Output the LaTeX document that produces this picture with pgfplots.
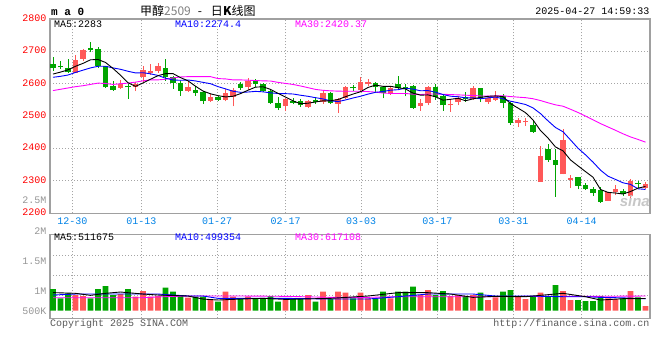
\documentclass[border=0pt]{standalone}
\usepackage{pgfplots}
\pgfplotsset{compat=1.18}
\usepackage{pgfplotstable}
\usepackage{fontspec}
\setmainfont{Liberation Mono}
\newfontfamily\cjk{Noto Sans CJK SC}
\newfontfamily\wm{Liberation Sans}
\definecolor{upred}{RGB}{255,88,88}
\definecolor{dngreen}{RGB}{0,165,0}
\definecolor{datec}{RGB}{0,130,230}
\definecolor{framec}{RGB}{160,160,160}
\definecolor{gridc}{RGB}{165,165,165}
\definecolor{volc}{RGB}{150,150,150}
\definecolor{mag}{RGB}{255,0,255}

% rising (red) candles
\pgfplotstableread{
i O H L C
3 2633 2690 2632 2674
4 2678 2707 2671 2705
9 2588 2613 2584 2600
11 2589 2607 2577 2600
12 2620 2656 2605 2641
13 2634 2661 2628 2640
14 2638 2663 2632 2655
18 2579 2609 2574 2591
21 2548 2568 2543 2558
23 2550 2584 2546 2571
24 2560 2587 2530 2581
26 2589 2618 2581 2610
31 2531 2556 2515 2553
34 2528 2550 2525 2548
36 2543 2579 2538 2571
38 2538 2556 2509 2553
39 2556 2594 2553 2591
41 2582 2622 2579 2607
42 2598 2614 2592 2606
45 2568 2592 2565 2587
49 2531 2553 2517 2540
50 2541 2594 2533 2591
53 2533 2553 2514 2538
54 2543 2563 2533 2556
56 2553 2594 2551 2587
58 2545 2561 2538 2555
59 2551 2579 2548 2563
62 2479 2494 2466 2487
63 2481 2494 2471 2484
65 2297 2407 2297 2376
68 2320 2461 2320 2425
69 2303 2318 2279 2310
74 2239 2265 2239 2265
75 2267 2287 2256 2275
77 2253 2305 2239 2300
79 2277 2297 2274 2290
}\upc

% falling (green) candles
\pgfplotstableread{
i O H L C
0 2662 2683 2639 2650
1 2656 2671 2646 2651
2 2650 2676 2633 2635
5 2711 2728 2697 2705
6 2707 2714 2648 2656
7 2654 2656 2587 2589
8 2594 2610 2579 2582
10 2592 2600 2554 2589
15 2650 2676 2609 2620
16 2620 2625 2584 2601
17 2602 2609 2563 2579
19 2582 2594 2563 2571
20 2574 2579 2538 2546
22 2558 2563 2548 2551
25 2599 2607 2581 2587
27 2611 2614 2589 2599
28 2599 2601 2574 2577
29 2579 2581 2538 2540
30 2540 2560 2519 2526
32 2548 2556 2536 2540
33 2548 2553 2528 2533
35 2550 2556 2538 2545
37 2571 2574 2538 2540
40 2591 2596 2579 2586
43 2602 2604 2576 2589
44 2589 2594 2555 2572
46 2599 2625 2584 2586
47 2589 2599 2561 2586
48 2594 2596 2522 2525
51 2591 2599 2550 2558
52 2563 2568 2517 2533
55 2560 2576 2545 2553
57 2587 2587 2543 2555
60 2563 2568 2524 2541
61 2540 2543 2473 2479
64 2474 2484 2449 2451
66 2398 2415 2359 2364
67 2364 2400 2251 2349
70 2311 2311 2274 2285
71 2287 2294 2272 2275
72 2275 2280 2253 2262
73 2272 2280 2233 2236
76 2269 2274 2253 2260
78 2294 2300 2277 2289
}\dnc

% price moving averages
\pgfplotstableread{
i ma5 ma10 ma30
0 2630 2620 2579
1 2636 2623 2583
2 2643 2627 2587
3 2654 2635 2591
4 2663 2642 2594
5 2674 2649 2598
6 2675 2654 2602
7 2665.8 2654 2601
8 2647.4 2649 2598
9 2626.4 2644.7 2600
10 2603.2 2638.6 2602
11 2592 2633.5 2605
12 2602.4 2634.1 2609
13 2614 2630.7 2612
14 2625 2625.7 2612
15 2631.2 2617.2 2614
16 2631.4 2611.7 2618
17 2619 2610.7 2621
18 2609.2 2611.6 2622
19 2592.4 2608.7 2622
20 2577.6 2604.4 2622
21 2569 2600.2 2622
22 2563.4 2591.2 2616
23 2559.4 2584.3 2615
24 2561.4 2576.9 2612
25 2569.6 2573.6 2612
26 2580 2574.5 2611
27 2589.6 2576.5 2610
28 2590.8 2575.1 2609
29 2582.6 2572 2608.5
30 2570.4 2570 2604.3
31 2559 2569.5 2601.1
32 2547.2 2568.4 2597.9
33 2538.4 2564.6 2593.2
34 2540 2561.3 2588
35 2543.8 2557.1 2582.6
36 2547.4 2553.2 2579.8
37 2547.4 2547.3 2578.2
38 2551.4 2544.9 2577.2
39 2560 2550 2576.9
40 2568.2 2556 2576.8
41 2575.4 2561.4 2577
42 2588.6 2568 2575.9
43 2595.8 2573.6 2574.2
44 2592 2576 2571.4
45 2592.2 2580.2 2570.3
46 2588 2581.7 2569.8
47 2584 2586.3 2570
48 2571.2 2583.5 2567.8
49 2564.8 2578.4 2566.8
50 2565.6 2578.9 2568.3
51 2560 2574 2568.3
52 2549.4 2566.7 2567.7
53 2552 2561.6 2566.6
54 2555.2 2560 2565.8
55 2547.6 2556.6 2564.6
56 2553.4 2556.7 2563.9
57 2557.8 2553.6 2562.4
58 2561.2 2556.6 2561.7
59 2562.6 2558.9 2562.4
60 2560.2 2553.9 2562.9
61 2538.6 2546 2560.5
62 2525 2541.4 2558.7
63 2510.8 2536 2557.1
64 2488.4 2525.5 2553.8
65 2455.4 2507.8 2548.2
66 2432.4 2485.5 2541.3
67 2404.8 2464.9 2534.9
68 2393 2451.9 2530.7
69 2364.8 2426.6 2521.3
70 2346.6 2401 2511.3
71 2328.8 2380.6 2500.2
72 2311.4 2358.1 2488.7
73 2273.6 2333.3 2477
74 2264.6 2314.7 2466.7
75 2262.6 2304.6 2456.3
76 2259.6 2294.2 2445.5
77 2267.2 2289.3 2435.9
78 2277.8 2275.7 2428.1
79 2282.8 2273.7 2419.7
}\pma

% volumes, rising days
\pgfplotstableread{
i V
3 659000
4 617000
9 701000
11 588000
12 827000
13 588000
14 617000
18 546000
21 449000
23 798000
24 588000
26 588000
31 449000
34 659000
36 798000
38 798000
39 756000
41 756000
42 521000
45 521000
49 659000
50 869000
53 617000
54 659000
56 659000
58 449000
59 563000
62 617000
63 491000
65 756000
68 827000
69 449000
74 521000
75 491000
77 827000
79 197000
}\upv

% volumes, falling days
\pgfplotstableread{
i V
0 911000
1 521000
2 731000
5 521000
6 911000
7 1037000
8 659000
10 911000
15 966000
16 798000
17 659000
19 588000
20 588000
22 378000
25 521000
27 521000
28 521000
29 617000
30 378000
32 521000
33 521000
35 378000
37 491000
40 521000
43 521000
44 798000
46 798000
47 798000
48 1008000
51 659000
52 827000
55 617000
57 756000
60 798000
61 869000
64 588000
66 588000
67 1079000
70 449000
71 407000
72 407000
73 617000
76 521000
78 563000
}\dnv

% volume moving averages
\pgfplotstableread{
i m5 m10 m30
0 760000 659000 546000
3 730000 700000 546000
5 645000 700000 546000
7 730000 700000 546000
9 785000 700000 546000
12 700000 700000 546000
14 659000 700000 580000
18 617000 617000 617000
20 490000 617000 617000
22 448000 519000 617000
25 490000 519000 617000
28 519000 519000 610000
31 475000 519000 603000
37 519000 491000 561000
42 617000 491000 561000
46 757000 588000 588000
50 757000 700000 588000
53 700000 700000 588000
56 561000 700000 588000
59 603000 617000 588000
63 588000 617000 600000
68 730000 588000 600000
71 588000 588000 600000
73 448000 560000 605000
76 505000 540000 610000
79 512000 499000 617000
}\vma

\begin{document}
\fontsize{10bp}{12bp}\selectfont
\begin{tikzpicture}
\path[use as bounding box] (0bp,0bp) rectangle (660bp,-360bp);

\begin{axis}[
  at={(50bp,-213.3bp)}, anchor=south west,
  scale only axis, width=600bp, height=194.3bp,
  xmin=-0.4, xmax=79.6, ymin=2200, ymax=2800,
  axis line style={framec, line width=1.3bp},
  major tick length=0pt,
  ytick={2200,2300,2400,2500,2600,2700,2800},
  yticklabels={2200,2300,2400,2500,2600,2700,2800},
  yticklabel style={text=red, inner sep=0pt, xshift=-3.5bp, yshift=1bp},
  xtick={2.57,11.77,21.9,31.03,41.07,51.24,61.37,70.49},
  xticklabels={12-30,01-13,01-27,02-17,03-03,03-17,03-31,04-14},
  xticklabel style={text=datec, inner sep=0pt, yshift=-4.5bp},
  grid=major,
  grid style={gridc, line width=0.9bp, dash pattern=on 1bp off 2bp},
  tick label style={font=\fontsize{10bp}{12bp}\selectfont},
]
% wicks
\addplot[draw=none, forget plot, error bars/.cd, y dir=plus, y explicit,
  error mark=none, error bar style={draw=upred, line width=1bp, solid}]
  table[x=i, y=L, y error expr=\thisrow{H}-\thisrow{L}]{\upc};
\addplot[draw=none, forget plot, error bars/.cd, y dir=plus, y explicit,
  error mark=none, error bar style={draw=dngreen, line width=1bp, solid}]
  table[x=i, y=L, y error expr=\thisrow{H}-\thisrow{L}]{\dnc};
% bodies
\addplot[draw=none, forget plot, error bars/.cd, y dir=plus, y explicit,
  error mark=none, error bar style={draw=upred, line width=5.5bp, solid}]
  table[x=i, y=O, y error expr={max(\thisrow{C}-\thisrow{O},2)}]{\upc};
\addplot[draw=none, forget plot, error bars/.cd, y dir=plus, y explicit,
  error mark=none, error bar style={draw=dngreen, line width=5.5bp, solid}]
  table[x=i, y=C, y error expr={max(\thisrow{O}-\thisrow{C},2)}]{\dnc};
% moving averages
\addplot[mag, line width=0.9bp, mark=none] table[x=i, y=ma30]{\pma};
\addplot[blue, line width=0.9bp, mark=none] table[x=i, y=ma10]{\pma};
\addplot[black, line width=0.9bp, mark=none] table[x=i, y=ma5]{\pma};
\end{axis}

\begin{axis}[
  at={(50bp,-318.3bp)}, anchor=south west,
  scale only axis, width=600bp, height=84bp,
  xmin=-0.4, xmax=79.6, ymin=-319200, ymax=3208800,
  axis line style={framec, line width=1.3bp},
  major tick length=0pt,
  scaled y ticks=false,
  ytick={659400,1499400,2339400},
  yticklabels={},
  extra y ticks={-12600,827400,2087400},
  extra y tick labels={500K,1M,1.5M},
  extra y tick style={grid=none, yticklabel style={text=volc, inner sep=0pt, xshift=-3.5bp}},
  xtick={2.57,11.77,21.9,31.03,41.07,51.24,61.37,70.49},
  xticklabels={},
  grid=major,
  grid style={gridc, line width=0.9bp, dash pattern=on 1bp off 2bp},
  tick label style={font=\fontsize{10bp}{12bp}\selectfont},
]
\addplot[ybar, bar width=5.6bp, bar shift=0pt, fill=upred, draw=none, forget plot] table[x=i, y=V]{\upv};
\addplot[ybar, bar width=5.6bp, bar shift=0pt, fill=dngreen, draw=none, forget plot] table[x=i, y=V]{\dnv};
\addplot[mag, line width=0.9bp, mark=none] table[x=i, y=m30]{\vma};
\addplot[blue, line width=0.9bp, mark=none] table[x=i, y=m10]{\vma};
\addplot[black, line width=0.9bp, mark=none] table[x=i, y=m5]{\vma};
\end{axis}

% header texts
\node[anchor=west, inner sep=0pt, font=\fontsize{11bp}{12bp}\selectfont\bfseries] at (51bp,-12bp) {m a 0};
\node[anchor=west, inner sep=0pt, font=\fontsize{12bp}{14bp}\selectfont] at (140bp,-10.5bp) {\cjk 甲醇{\color{gray}2509}\hspace{7bp}-\hspace{9bp}日\textbf{K}线图};
\node[anchor=east, inner sep=0pt] at (649.5bp,-11.7bp) {2025-04-27 14:59:33};
\node[anchor=west, inner sep=0pt] at (54bp,-24bp) {MA5:2283};
\node[anchor=west, inner sep=0pt, text=blue] at (175bp,-24bp) {MA10:2274.4};
\node[anchor=west, inner sep=0pt, text=mag] at (295bp,-24bp) {MA30:2420.37};
\node[anchor=east, inner sep=0pt, text=volc] at (46.5bp,-200bp) {2.5M};
\node[anchor=east, inner sep=0pt, text=volc] at (46.5bp,-231bp) {2M};
\node[anchor=west, inner sep=0pt] at (54bp,-237.5bp) {MA5:511675};
\node[anchor=west, inner sep=0pt, text=blue] at (175bp,-237.5bp) {MA10:499354};
\node[anchor=west, inner sep=0pt, text=mag] at (295bp,-237.5bp) {MA30:617108};
\node[anchor=west, inner sep=0pt, text=black!65] at (50bp,-323.5bp) {Copyright 2025 SINA.COM};
\node[anchor=east, inner sep=0pt, text=black!65] at (649.5bp,-323.5bp) {http://finance.sina.com.cn};
\node[anchor=east, inner sep=0pt, text=black!22, font=\wm\bfseries\itshape\fontsize{15bp}{16bp}\selectfont] at (650bp,-201bp) {sina};
\end{tikzpicture}
\end{document}
